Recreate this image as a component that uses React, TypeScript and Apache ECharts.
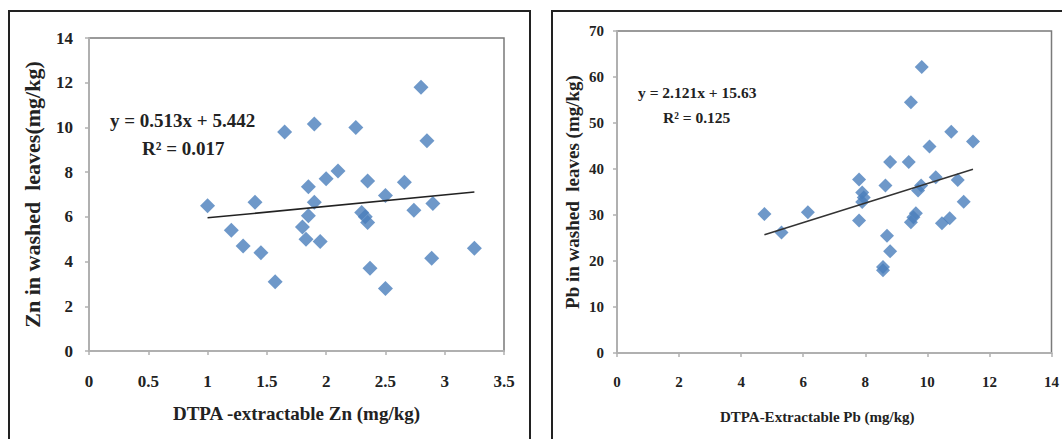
import React, { useEffect, useRef } from "react";
import * as echarts from "echarts";

// Left panel: DTPA-extractable Zn vs Zn in washed leaves
const znX = [1.0, 1.2, 1.3, 1.4, 1.45, 1.57, 1.65, 1.8, 1.85, 1.85, 1.83, 1.9, 1.9, 1.95, 2.0, 2.1, 2.25, 2.3, 2.33, 2.35, 2.35, 2.37, 2.5, 2.5, 2.66, 2.74, 2.8, 2.85, 2.9, 2.89, 3.25];
const znY = [6.5, 5.4, 4.7, 6.65, 4.4, 3.1, 9.8, 5.55, 7.35, 6.05, 5.0, 10.15, 6.65, 4.9, 7.7, 8.05, 10.0, 6.2, 6.0, 5.75, 7.6, 3.7, 6.95, 2.8, 7.55, 6.3, 11.8, 9.4, 6.6, 4.15, 4.6];
const znSlope = 0.513;
const znIntercept = 5.442;
const znEq = "y = 0.513x + 5.442";
const znR2 = "R\u00B2 = 0.017";

// Right panel: DTPA-extractable Pb vs Pb in washed leaves
const pbX = [4.75, 5.3, 6.15, 7.8, 7.8, 7.9, 7.95, 7.9, 8.65, 8.8, 8.7, 8.8, 8.57, 8.57, 9.4, 9.47, 9.82, 9.47, 9.55, 9.63, 9.7, 9.8, 10.07, 10.27, 10.47, 10.72, 10.77, 10.98, 11.17, 11.47];
const pbY = [30.2, 26.2, 30.6, 37.7, 28.8, 34.9, 33.8, 32.8, 36.4, 41.5, 25.5, 22.1, 18.7, 18.0, 41.5, 54.5, 62.2, 28.4, 29.5, 30.4, 35.3, 36.4, 44.9, 38.2, 28.2, 29.3, 48.1, 37.6, 32.9, 46.0];
const pbSlope = 2.121;
const pbIntercept = 15.63;
const pbEq = "y = 2.121x + 15.63";
const pbR2 = "R\u00B2 = 0.125";

const FONT = "Liberation Serif";
const BLUE = "#4A7EBB";

function trend(xs: number[], m: number, b: number) {
  const lo = Math.min(...xs);
  const hi = Math.max(...xs);
  return [[lo, m * lo + b], [hi, m * hi + b]];
}

function axisCommon(fontSize: number, margin: number) {
  return {
    axisLine: { show: true, lineStyle: { color: "#b0b0b0", width: 2 } },
    axisTick: { show: true, inside: false, length: 4, lineStyle: { color: "#b0b0b0", width: 1.5 } },
    splitLine: { show: false },
    axisLabel: { fontFamily: FONT, fontWeight: "bold", fontSize, color: "#222", margin },
  };
}

export default function App() {
  const ref = useRef<HTMLDivElement>(null);
  useEffect(() => {
    if (!ref.current) return;
    const chart = echarts.init(ref.current, null, { renderer: "svg" });
    const option: any = {
      animation: false,
      backgroundColor: "#ffffff",
      textStyle: { fontFamily: FONT },
      grid: [
        { left: 89, top: 38, width: 415, height: 313, show: true, borderColor: "#7a7a7a", borderWidth: 1.5, containLabel: false },
        { left: 617, top: 31, width: 438, height: 322, show: true, borderColor: "#7a7a7a", borderWidth: 1.5, containLabel: false },
      ],
      xAxis: [
        {
          gridIndex: 0, type: "value", min: 0, max: 3.5, interval: 0.5,
          ...axisCommon(17, 22),
          name: "DTPA -extractable Zn (mg/kg)", nameLocation: "middle", nameGap: 53,
          nameTextStyle: { fontFamily: FONT, fontWeight: "bold", fontSize: 19, color: "#222" },
        },
        {
          gridIndex: 1, type: "value", min: 0, max: 14, interval: 2,
          ...axisCommon(15, 21),
          name: "DTPA-Extractable Pb (mg/kg)", nameLocation: "middle", nameGap: 56,
          nameTextStyle: { fontFamily: FONT, fontWeight: "bold", fontSize: 15, color: "#222", padding: [0, 34, 0, 0] },
        },
      ],
      yAxis: [
        {
          gridIndex: 0, type: "value", min: 0, max: 14, interval: 2,
          ...axisCommon(17, 16),
          name: "Zn in washed  leaves(mg/kg)", nameLocation: "middle", nameGap: 46,
          nameTextStyle: { fontFamily: FONT, fontWeight: "bold", fontSize: 22, color: "#222" },
        },
        {
          gridIndex: 1, type: "value", min: 0, max: 70, interval: 10,
          ...axisCommon(15, 13),
          name: "Pb in washed  leaves (mg/kg)", nameLocation: "middle", nameGap: 35,
          nameTextStyle: { fontFamily: FONT, fontWeight: "bold", fontSize: 19, color: "#222" },
        },
      ],
      series: [
        {
          type: "scatter", xAxisIndex: 0, yAxisIndex: 0, symbol: "diamond", symbolSize: 15,
          itemStyle: { color: BLUE }, data: znX.map((x, i) => [x, znY[i]]),
        },
        {
          type: "line", xAxisIndex: 0, yAxisIndex: 0, symbol: "none",
          lineStyle: { color: "#222", width: 1.5 }, data: trend(znX, znSlope, znIntercept), z: 3,
        },
        {
          type: "scatter", xAxisIndex: 1, yAxisIndex: 1, symbol: "diamond", symbolSize: 14,
          itemStyle: { color: BLUE }, data: pbX.map((x, i) => [x, pbY[i]]),
        },
        {
          type: "line", xAxisIndex: 1, yAxisIndex: 1, symbol: "none",
          lineStyle: { color: "#333", width: 1.5 }, data: trend(pbX, pbSlope, pbIntercept), z: 3,
        },
      ],
      graphic: [
        { type: "rect", shape: { x: 9, y: 11, width: 521, height: 440 }, style: { fill: "none", stroke: "#222", lineWidth: 2 }, z: 10 },
        { type: "rect", shape: { x: 552, y: 11, width: 520, height: 440 }, style: { fill: "none", stroke: "#222", lineWidth: 2 }, z: 10 },
        { type: "text", x: 110, y: 120, style: { text: znEq, fontFamily: FONT, fontWeight: "bold", fontSize: 19, fill: "#222", verticalAlign: "middle" } },
        { type: "text", x: 142, y: 148, style: { text: znR2, fontFamily: FONT, fontWeight: "bold", fontSize: 19, fill: "#222", verticalAlign: "middle" } },
        { type: "text", x: 638, y: 92, style: { text: pbEq, fontFamily: FONT, fontWeight: "bold", fontSize: 15.5, fill: "#222", verticalAlign: "middle" } },
        { type: "text", x: 663, y: 117, style: { text: pbR2, fontFamily: FONT, fontWeight: "bold", fontSize: 15.5, fill: "#222", verticalAlign: "middle" } },
      ],
    };
    chart.setOption(option);
    return () => chart.dispose();
  }, []);
  return <div ref={ref} style={{ position: "fixed", left: 0, top: 0, width: 1062, height: 439 }} />;
}
